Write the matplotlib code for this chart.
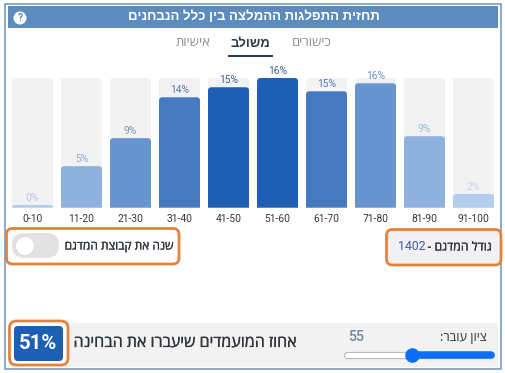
import matplotlib
matplotlib.use("Agg")
import matplotlib.pyplot as plt
from matplotlib.patches import FancyBboxPatch, Rectangle, Circle
from matplotlib.path import Path
from matplotlib.patheffects import withStroke

W, H = 506, 373
HEB = ['Open Sans', 'Noto Sans', 'Liberation Sans', 'DejaVu Sans']
NUM = ['Roboto', 'DejaVu Sans']

# ---- data ----
categories = ['0-10', '11-20', '21-30', '31-40', '41-50', '51-60', '61-70', '71-80', '81-90', '91-100']
values = [0.33, 5.13, 8.58, 13.62, 14.86, 16.0, 14.36, 15.35, 8.82, 1.69]
value_labels = ['0%', '5%', '9%', '14%', '15%', '16%', '15%', '16%', '9%', '2%']
bar_colors = ['#b3cdee', '#8fb1de', '#6795d0', '#4579c0', '#1f5fb3',
              '#1f5fb3', '#4579c0', '#6795d0', '#8fb1de', '#b3cdee']
label_colors = ['#b9c9e0', '#93aad0', '#7f93bc', '#5f78a8', '#3f5f9c',
                '#3f5f9c', '#5578b4', '#7090c4', '#a0b8da', '#c4d4ea']
axis_max = 16
title = 'תחזית התפלגות ההמלצה בין כלל הנבחנים'
tabs = ['כישורים', 'משולב', 'אישיות']
toggle_label = 'שנה את קבוצת המדגם'
sample_label = 'גודל המדגם - '
sample_size = '1402'
pass_label = 'אחוז המועמדים שיעברו את הבחינה'
pass_rate = '51%'
score_label = 'ציון עובר:'
pass_score = 55


def heb(s):
    """matplotlib lays text out left to right, so Hebrew is given in visual order."""
    return s[::-1]


fig = plt.figure(figsize=(W / 100, H / 100), dpi=100, facecolor='white')

# pixel-coordinate layer for the page furniture
bg = fig.add_axes([0, 0, 1, 1], zorder=0)
bg.set_xlim(0, W)
bg.set_ylim(H, 0)
bg.axis('off')


def box(x0, y0, x1, y1, r=0, fc='none', ec='none', lw=0, z=1):
    if r:
        p = FancyBboxPatch((x0 + r, y0 + r), x1 - x0 - 2 * r, y1 - y0 - 2 * r,
                           boxstyle=f'round,pad={r},rounding_size={r}',
                           fc=fc, ec=ec, lw=lw, zorder=z)
    else:
        p = Rectangle((x0, y0), x1 - x0, y1 - y0, fc=fc, ec=ec, lw=lw, zorder=z)
    bg.add_patch(p)
    return p


# outer frame, header, footer band
box(5.5, 3.5, 501.5, 368.5, ec='#6f93b8', lw=1.1, z=1)
box(8, 6, 498, 28, fc='#5b8cbd', z=2)
box(8, 323, 498, 367, fc='#f2f2f2', z=2)

bg.text(253.5, 17, heb(title), color='white', fontsize=9.5, fontweight='bold',
        ha='center', va='center', family=HEB, zorder=3)
bg.add_patch(Circle((20, 18), 6.5, fc='white', ec='none', zorder=3))
bg.text(20, 18, '?', color='#5b8cbd', fontsize=7.5, fontweight='bold',
        ha='center', va='center', family=NUM, zorder=4)

# tabs
for t, x, c, fw in zip(tabs, [312, 250, 193], ['#8a8f94', '#2b3a4a', '#8a8f94'],
                       ['normal', 'bold', 'normal']):
    bg.text(x, 43, heb(t), color=c, fontsize=9.4, fontweight=fw,
            ha='center', va='center', family=HEB, zorder=3)
box(228, 55.2, 273, 57, fc='#2a3f54', z=3)

# ---- bars ----
BAR_L, BAR_R, BAR_T, BAR_B = 8, 498, 78, 207.7
ax = fig.add_axes([BAR_L / W, 1 - BAR_B / H, (BAR_R - BAR_L) / W, (BAR_B - BAR_T) / H],
                  zorder=2, facecolor='none')
pos = list(range(len(categories)))
ax.set_xlim(-0.5, len(categories) - 0.5)
ax.set_ylim(0, axis_max)
track = ax.bar(pos, [axis_max] * len(pos), width=0.837, color='#f2f2f2', zorder=1)
bars = ax.bar(pos, values, width=0.837, color=bar_colors, zorder=2)


def round_top(rect, r_px=3.5):
    """Clip a bar so that its top corners are rounded."""
    (x0, y0), (x1, y1) = ax.transData.transform(
        [(rect.get_x(), rect.get_y()), (rect.get_x() + rect.get_width(), rect.get_height())])
    r = min(r_px, (y1 - y0))
    verts = [(x0, y0), (x0, y1 - r), (x0, y1), (x0 + r, y1), (x1 - r, y1), (x1, y1),
             (x1, y1 - r), (x1, y0), (x0, y0)]
    codes = [Path.MOVETO, Path.LINETO, Path.CURVE3, Path.CURVE3, Path.LINETO,
             Path.CURVE3, Path.CURVE3, Path.LINETO, Path.CLOSEPOLY]
    rect.set_clip_path(Path(verts, codes), matplotlib.transforms.IdentityTransform())


for rect in list(track) + list(bars):
    round_top(rect)

for x, v, lab, c in zip(pos, values, value_labels, label_colors):
    ax.annotate(lab, (x, v), xytext=(0, 1.6), textcoords='offset points', ha='center', va='bottom',
                color=c, fontsize=7.4, fontweight='normal', family=NUM, annotation_clip=False, zorder=4)

ax.set_xticks(pos)
ax.set_xticklabels(categories, fontsize=7.4, color='#2f3840', family=NUM)
ax.tick_params(axis='x', length=0, pad=4.5)
ax.set_yticks([])
for s in ax.spines.values():
    s.set_visible(False)

# a hair of stroke gives the medium weight the reference text has
med = [withStroke(linewidth=0.15, foreground='#2f353b')]

# toggle box
ORANGE = '#e5823c'
box(6.5, 228.5, 179, 264, r=6, fc='white', ec=ORANGE, lw=2, z=3)
box(12, 233, 59, 258, r=12.5, fc='#e2e2e2', z=4)
bg.add_patch(Circle((25, 246), 9.5, fc='white', ec='#d4d4d4', lw=0.5, zorder=5))
bg.text(173, 246, heb(toggle_label), color='#2f353b', fontsize=8.6, ha='right', va='center',
        family=HEB, zorder=5, path_effects=med)

# sample box
box(386.5, 229.5, 501, 265, r=6, fc='#f1f1f3', ec=ORANGE, lw=2, z=3)
bg.text(492, 247, heb(sample_label), color='#2f353b', fontsize=8.8,
        ha='right', va='center', family=HEB, zorder=5, path_effects=med)
bg.text(398, 247, sample_size, color='#3c5ea6', fontsize=8.8, fontweight='normal',
        ha='left', va='center', family=NUM, zorder=5)

# footer
box(9.5, 321, 68, 365, r=7, fc='white', ec=ORANGE, lw=2, z=3)
box(14, 326, 63, 361, r=4, fc='#1f5fb3', z=4)
bg.text(38.5, 343.5, pass_rate, color='white', fontsize=14.6, fontweight='bold',
        ha='center', va='center', family=NUM, zorder=5)
bg.text(297, 343, heb(pass_label), color='#2f353b', fontsize=11.5, ha='right', va='center',
        family=HEB, zorder=5, path_effects=med)
bg.text(487, 337, heb(score_label), color='#2f353b', fontsize=9.2, ha='right', va='center',
        family=HEB, zorder=5)
bg.text(356, 337, str(pass_score), color='#6f87a8', fontsize=10.2, fontweight='medium',
        ha='center', va='center', family=NUM, zorder=5)

# RTL slider: 100 at the left end, 0 at the right end
SL, SR, SY = 347, 491, 355
sl = fig.add_axes([SL / W, 1 - (SY + 8) / H, (SR - SL) / W, 16 / H], zorder=3, facecolor='none')
sl.set_xlim(100, 0)
sl.set_ylim(-8, 8)
sl.axis('off')
sl.plot([100, 0], [0, 0], color='#b8b8b8', lw=5.2, solid_capstyle='round', clip_on=False, zorder=1)
sl.plot([100, 0], [0, 0], color='white', lw=3.6, solid_capstyle='round', clip_on=False, zorder=2)
sl.plot([pass_score, 0], [0, 0], color='#0d6efd', lw=5.4, solid_capstyle='round', clip_on=False, zorder=3)
sl.plot([pass_score], [0], 'o', color='#0d6efd', ms=10.5, mec='none', clip_on=False, zorder=4)

fig.savefig('out.png', dpi=100, facecolor='white')
